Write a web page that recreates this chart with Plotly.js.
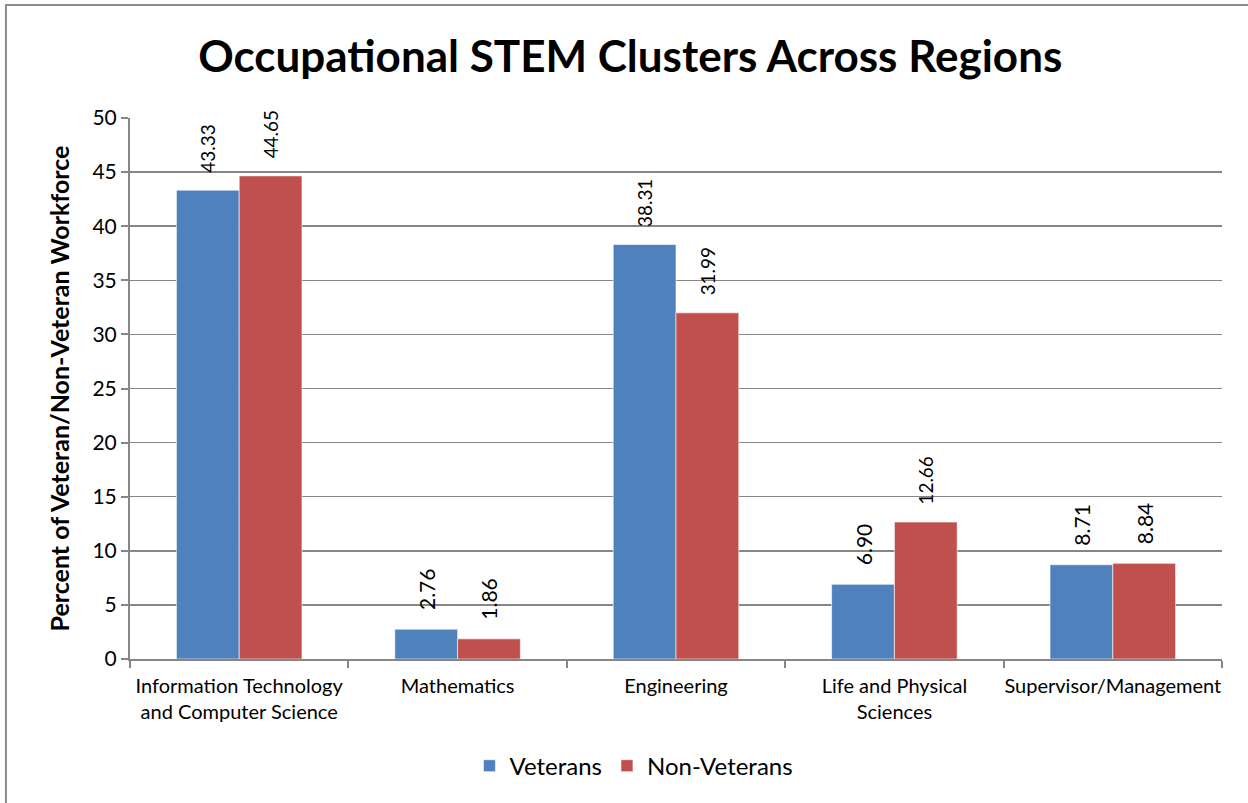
<!DOCTYPE html>
<html>
<head>
<meta charset="utf-8">
<script src="https://cdn.plot.ly/plotly-3.0.1.min.js"></script>
<style>
  html, body { margin: 0; padding: 0; background: #fff; }
  #chart { width: 1248px; height: 803px; }
</style>
</head>
<body>
<div id="chart"></div>
<script>
const categories = [
  "Information Technology<br>and Computer Science",
  "Mathematics",
  "Engineering",
  "Life and Physical<br>Sciences",
  "Supervisor/Management"
];
const veterans = [43.33, 2.76, 38.31, 6.90, 8.71];
const nonVeterans = [44.65, 1.86, 31.99, 12.66, 8.84];
const yTicks = [0, 5, 10, 15, 20, 25, 30, 35, 40, 45, 50];

const FONT = "Lato, 'Open Sans', sans-serif";
const PAD = "\u00a0\u00a0\u00a0";

const common = {
  type: "bar",
  x: categories,
  texttemplate: PAD + "%{y:.2f}",
  textposition: "outside",
  textangle: -90,
  cliponaxis: false,
  textfont: { family: FONT, size: 21, color: "#000" },
  hoverinfo: "none"
};

const data = [
  Object.assign({}, common, {
    name: "Veterans",
    y: veterans,
    marker: { color: "#4F81BD", line: { color: "rgba(255,255,255,0.6)", width: 1 } }
  }),
  Object.assign({}, common, {
    name: "Non-Veterans",
    y: nonVeterans,
    marker: { color: "#C0504D", line: { color: "rgba(255,255,255,0.6)", width: 1 } }
  })
];

const layout = {
  width: 1248,
  height: 803,
  margin: { l: 130, r: 26, t: 118, b: 144 },
  paper_bgcolor: "#fff",
  plot_bgcolor: "#fff",
  font: { family: FONT, color: "#000" },
  title: {
    text: "<b>Occupational STEM Clusters Across Regions</b>",
    font: { family: FONT, size: 44, color: "#000" },
    x: 0.505, xanchor: "center",
    y: 0.93, yanchor: "middle"
  },
  barmode: "group",
  bargap: 0.425,
  bargroupgap: 0,
  showlegend: true,
  legend: {
    orientation: "h",
    x: 0.4615, xanchor: "center",
    y: -0.198, yanchor: "middle",
    font: { family: FONT, size: 24, color: "#000" },
    itemwidth: 30,
    traceorder: "normal"
  },
  xaxis: {
    type: "category",
    showline: true,
    linecolor: "#868686",
    linewidth: 2,
    ticks: "outside",
    tickson: "boundaries",
    ticklen: 7,
    tickcolor: "#868686",
    tickwidth: 2,
    tickangle: 0,
    ticklabelstandoff: 8,
    showgrid: false,
    tickfont: { family: FONT, size: 20, color: "#000" },
    fixedrange: true
  },
  yaxis: {
    range: [0, 50],
    tickvals: yTicks,
    ticktext: yTicks.map(String),
    showline: true,
    linecolor: "#868686",
    linewidth: 2,
    ticks: "outside",
    ticklen: 7,
    tickcolor: "#868686",
    tickwidth: 2,
    showgrid: true,
    gridcolor: "#868686",
    gridwidth: 1.5,
    zeroline: false,
    tickfont: { family: FONT, size: 21, color: "#000" },
    title: {
      text: "<b>Percent of Veteran/Non-Veteran Workforce</b>",
      font: { family: FONT, size: 25, color: "#000" },
      standoff: 16
    },
    fixedrange: true
  },
  shapes: [
    {
      type: "rect", xref: "paper", yref: "paper",
      x0: -0.1136, x1: 1.2, y0: -0.4, y1: 1.2089,
      line: { color: "#8c8c8c", width: 2 },
      fillcolor: "rgba(0,0,0,0)",
      layer: "below"
    }
  ]
};

Plotly.newPlot("chart", data, layout, { displayModeBar: false, staticPlot: true });
</script>
</body>
</html>
